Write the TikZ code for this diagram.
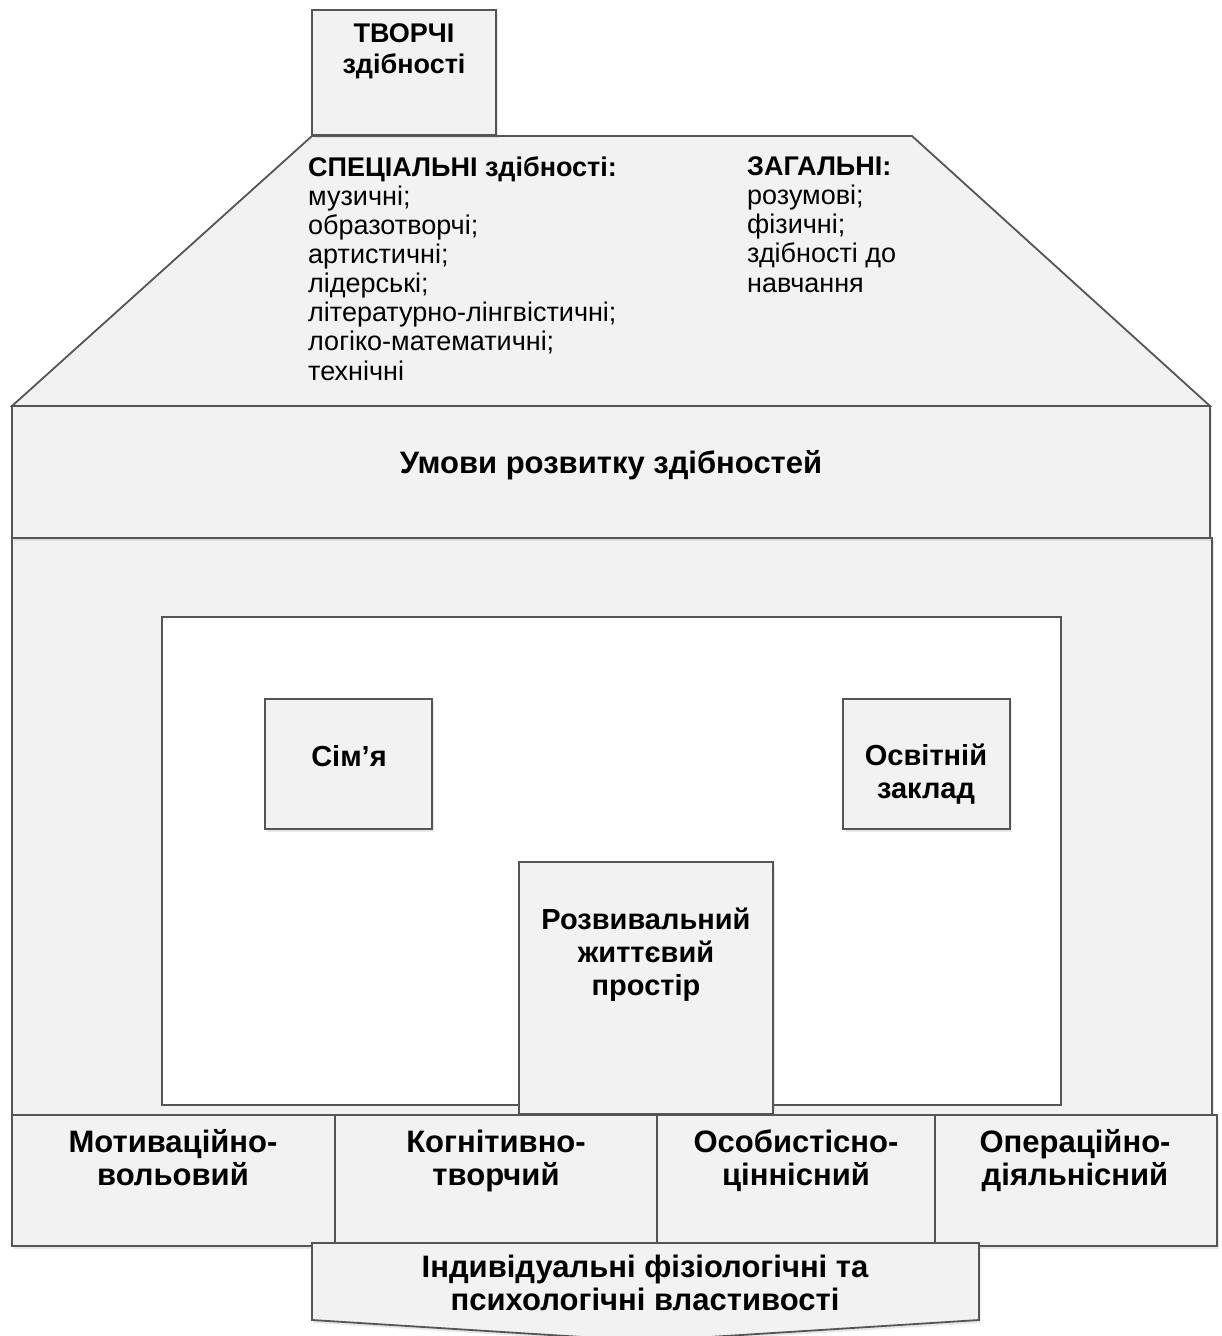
\documentclass[tikz,border=0pt]{standalone}
\usepackage{fontspec}
\setmainfont{Liberation Sans}
\usetikzlibrary{shadows}

\definecolor{wallfill}{HTML}{F2F2F2}
\definecolor{edge}{HTML}{555555}

\tikzset{
  part/.style={draw=edge, line width=1.8pt, fill=wallfill, line join=miter,
    drop shadow={opacity=0.18, shadow xshift=1.5pt, shadow yshift=-3pt}},
  hole/.style={draw=edge, line width=1.8pt, fill=white},
  bigtxt/.style={align=center, inner sep=0pt, anchor=base,
    font=\fontsize{31}{33}\selectfont\bfseries},
  boxtxt/.style={bigtxt, font=\fontsize{29}{33}\selectfont\bfseries},
  chimtxt/.style={bigtxt, font=\fontsize{27}{31}\selectfont\bfseries},
  listtxt/.style={align=left, inner sep=0pt, anchor=base west,
    font=\fontsize{27}{29.1}\selectfont}
}

\begin{document}
\begin{tikzpicture}[x=1pt,y=-1pt]
			\useasboundingbox (0,0) rectangle (1221,1336);
			
			% roof and chimney
			\draw[part] (312,136) -- (912,136) -- (1210,406) -- (12,406) -- cycle;
			\draw[part] (312,10) rectangle (496,135);
			
			% walls, band and opening
			\draw[part] (12,538) rectangle (1212,1190);
			\draw[part] (12,406) rectangle (1210,538);
			\draw[hole] (162,617) rectangle (1061,1105);
			
			% inner boxes
			\draw[part] (265,699) rectangle (432,829);
			\draw[part] (843,699) rectangle (1010,829);
			\draw[part] (519,862) rectangle (773,1114);
			
			% bottom row
			\draw[part] (12,1115) rectangle (335,1246);
			\draw[part] (335,1115) rectangle (657,1243);
			\draw[part] (657,1115) rectangle (935,1243);
			\draw[part] (935,1115) rectangle (1217,1246);
			
			% foundation
			\draw[part] (312,1243) -- (979,1243) -- (979,1320) -- (646,1341) -- (312,1320) -- cycle;
			
			% texts (anchor = baseline of the last line)
			\node[chimtxt] (tvorchi) at (404,73) {ТВОРЧІ\\здібності};
			\node[listtxt] (spec) at (308,380) {\textbf{СПЕЦІАЛЬНІ здібності:}\\музичні;\\образотворчі;\\артистичні;\\лідерські;\\літературно-лінгвістичні;\\логіко-математичні;\\технічні};
			\node[listtxt] (zag) at (747,292) {\textbf{ЗАГАЛЬНІ:}\\розумові;\\фізичні;\\здібності до\\навчання};
			\node[bigtxt] (umovy) at (611,473) {Умови розвитку здібностей};
			\node[boxtxt] (simja) at (349,766) {Сім’я};
			\node[boxtxt] (osvita) at (926,798) {Освітній\\заклад};
			\node[boxtxt] (prostir) at (646,995) {Розвивальний\\життєвий\\простір};
			\node[bigtxt] (motyv) at (173,1185) {Мотиваційно-\\вольовий};
			\node[bigtxt] (kogn) at (496,1185) {Когнітивно-\\творчий};
			\node[bigtxt] (osob) at (796,1185) {Особистісно-\\ціннісний};
			\node[bigtxt] (oper) at (1075,1185) {Операційно-\\діяльнісний};
			\node[bigtxt] (vlast) at (645,1310) {Індивідуальні фізіологічні та\\психологічні властивості};
		\end{tikzpicture}
\end{document}
